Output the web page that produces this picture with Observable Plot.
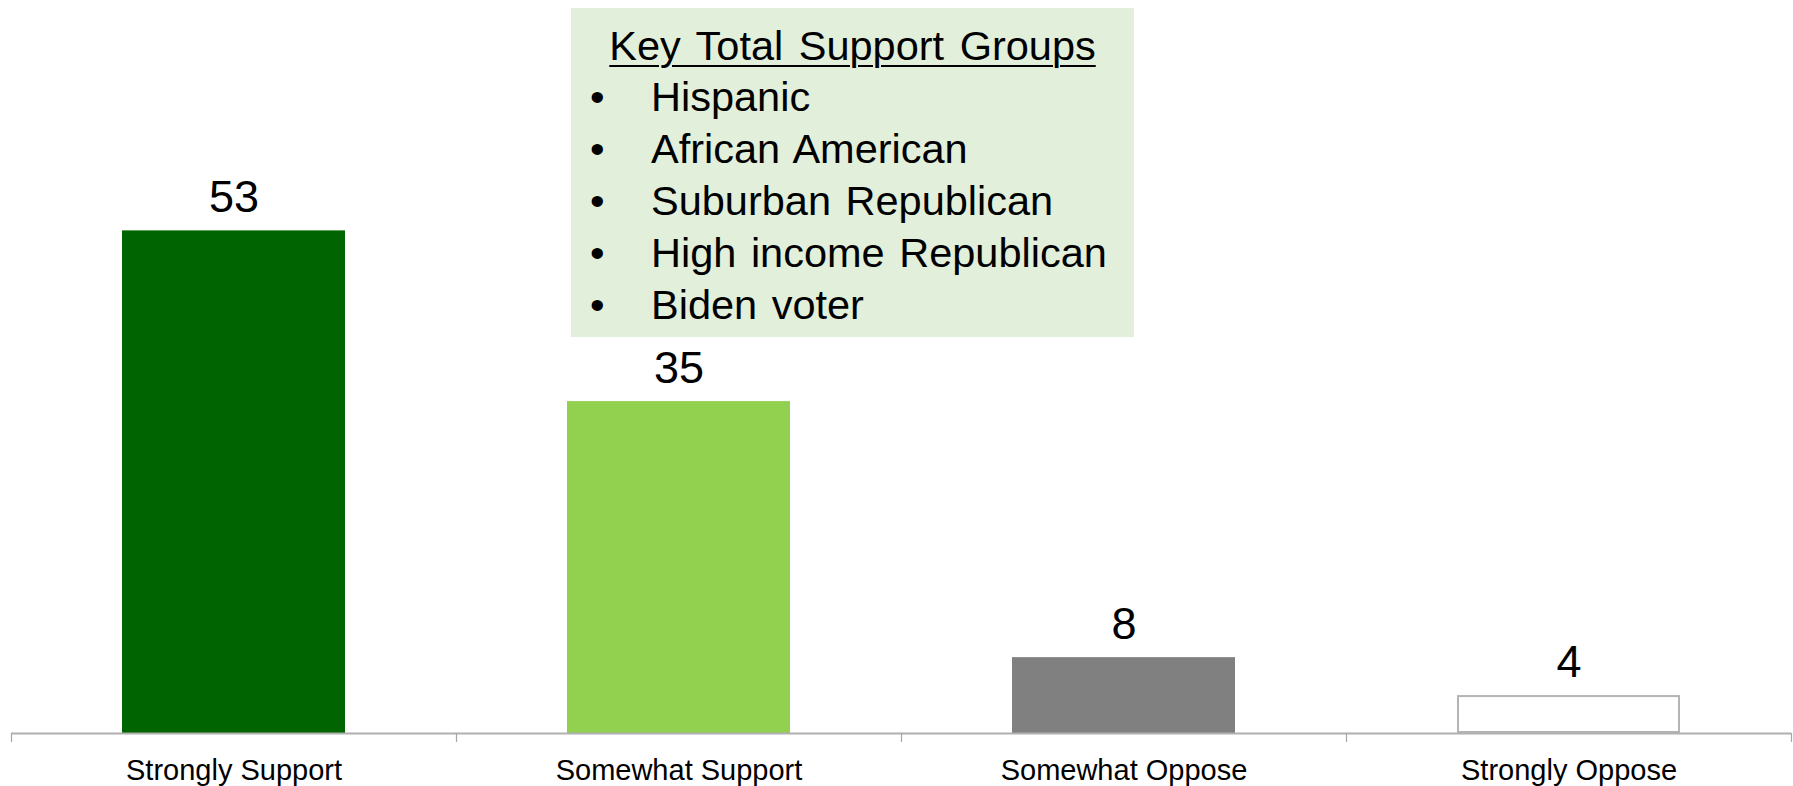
<!DOCTYPE html>
<html>
<head>
<meta charset="utf-8">
<script src="https://cdn.jsdelivr.net/npm/d3@7"></script>
<script src="https://cdn.jsdelivr.net/npm/@observablehq/plot@0.6"></script>
<style>
  html, body { margin: 0; padding: 0; background: #fff; }
  #wrap { position: relative; width: 1793px; height: 786px; overflow: hidden;
          font-family: "Liberation Sans", Arial, sans-serif; }
  #box { position: absolute; left: 571px; top: 8px; width: 563px; height: 329px;
         background: #E2EFDA; box-sizing: border-box; padding-top: 12px; color: #000; }
  #box .title { font-size: 41.5px; line-height: 51.3px; text-align: center;
                text-decoration: underline; text-decoration-thickness: 2px;
                text-underline-offset: 5px; word-spacing: 4px; white-space: nowrap; }
  #box ul { list-style: none; margin: 0; padding: 0; }
  #box li { position: relative; font-size: 41.5px; line-height: 51.9px;
            padding-left: 80px; white-space: nowrap; word-spacing: 3px; }
  #box li::before { content: "•"; position: absolute; left: 19px; top: 0; }
</style>
</head>
<body>
<div id="wrap"></div>
<script>
// ---- data ----
const categories = ["Strongly Support", "Somewhat Support", "Somewhat Oppose", "Strongly Oppose"];
const values = [53, 35, 8, 4];
const boxTitle = "Key Total Support Groups";
const groups = ["Hispanic", "African American", "Suburban Republican", "High income Republican", "Biden voter"];

// ---- styling (separate from data) ----
const barColors = ["#006400", "#92D050", "#808080", "#FFFFFF"];
const outlinedCategory = "Strongly Oppose";

const data = categories.map((c, i) => ({category: c, value: values[i]}));

const W = 1793, H = 786;
const mL = 11, mR = 2, mT = 164, mB = 53;
const padInner = 0.5, padOuter = 0.25;
const step = (W - mL - mR) / (categories.length - padInner + 2 * padOuter);

const chart = Plot.plot({
  width: W,
  height: H,
  marginLeft: mL,
  marginRight: mR,
  marginTop: mT,
  marginBottom: mB,
  style: {fontFamily: "'Liberation Sans', Arial, sans-serif", fontSize: "29px", color: "#000", background: "#fff"},
  x: {domain: categories, paddingInner: padInner, paddingOuter: padOuter, axis: null, label: null},
  y: {domain: [0, 60], axis: null},
  color: {type: "ordinal", domain: categories, range: barColors},
  marks: [
    Plot.barY(data, {x: "category", y: "value", fill: "category"}),
    Plot.barY(data.filter(d => d.category === outlinedCategory),
      {x: "category", y: "value", fill: "none", stroke: "#b4b4b4", strokeWidth: 2, inset: 1}),
    Plot.ruleY([0], {stroke: "#b0b0b0", strokeWidth: 2}),
    Plot.ruleX(categories, {x: d => d, y1: d => 0, y2: d => 0, insetBottom: -9, dx: -step / 2, stroke: "#a6a6a6", strokeWidth: 1.2}),
    Plot.ruleX(categories.slice(-1), {x: d => d, y1: d => 0, y2: d => 0, insetBottom: -9, dx: step / 2, stroke: "#a6a6a6", strokeWidth: 1.2}),
    Plot.text(data, {x: "category", y: "value", text: d => String(d.value), lineAnchor: "bottom", dy: -19, fontSize: 45, fill: "#000"}),
    Plot.axisX({tickSize: 0, tickPadding: 26, fontSize: 29, fill: "#000", label: null})
  ]
});

const wrap = document.getElementById("wrap");
wrap.appendChild(chart);

const box = document.createElement("div");
box.id = "box";
const t = document.createElement("div");
t.className = "title";
t.textContent = boxTitle;
box.appendChild(t);
const ul = document.createElement("ul");
for (const g of groups) {
  const li = document.createElement("li");
  li.textContent = g;
  ul.appendChild(li);
}
box.appendChild(ul);
wrap.appendChild(box);
</script>
</body>
</html>
